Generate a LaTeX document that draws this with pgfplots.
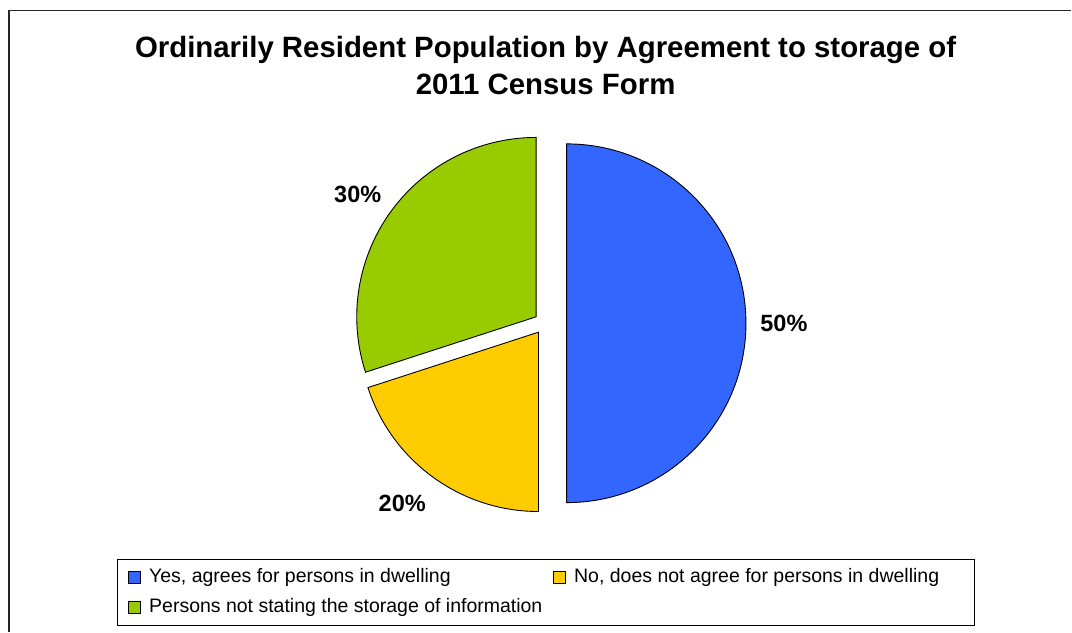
\documentclass[border=0pt]{standalone}
\usepackage{pgfplots}
\pgfplotsset{compat=1.18}
\usepackage{pgfplotstable}
\usepackage{fontspec}
\setmainfont{Liberation Sans}
\definecolor{cblue}{RGB}{51,102,255}
\definecolor{cyellow}{RGB}{255,204,0}
\definecolor{cgreen}{RGB}{153,204,0}

\pgfplotstableread{
value explode
50 21.6
20 11
30 11
}\piedata

\begin{document}
\begin{tikzpicture}
\pgfplotstablegetelem{0}{value}\of\piedata\edef\va{\pgfplotsretval}
\pgfplotstablegetelem{1}{value}\of\piedata\edef\vb{\pgfplotsretval}
\pgfplotstablegetelem{2}{value}\of\piedata\edef\vc{\pgfplotsretval}
\pgfplotstablegetelem{0}{explode}\of\piedata\edef\ea{\pgfplotsretval}
\pgfplotstablegetelem{1}{explode}\of\piedata\edef\eb{\pgfplotsretval}
\pgfplotstablegetelem{2}{explode}\of\piedata\edef\ec{\pgfplotsretval}
\pgfmathsetmacro\tot{\va+\vb+\vc}
\pgfmathsetmacro\aA{90}
\pgfmathsetmacro\aB{\aA-360*(\va/\tot)}
\pgfmathsetmacro\aC{\aB-360*(\vb/\tot)}
\pgfmathsetmacro\aD{\aC-360*(\vc/\tot)}
\pgfmathsetmacro\mA{(\aA+\aB)/2}
\pgfmathsetmacro\mB{(\aB+\aC)/2}
\pgfmathsetmacro\mC{(\aC+\aD)/2}
\def\cx{545.4}
\def\cy{308.5}
\begin{axis}[
  x=1pt, y=1pt, xmin=0, xmax=1072, ymin=0, ymax=632,
  scale only axis, hide axis, clip=false,
  legend columns=2,
  legend cell align=left,
  legend image code/.code={\draw[#1] (0pt,-6pt) rectangle (12pt,6pt); \path (20pt,0pt);},
  legend style={
    at={(axis cs:117,73)}, anchor=north west,
    draw=black, line width=1pt,
    inner xsep=11pt, inner ysep=9pt,
    font=\fontsize{19.5}{22}\selectfont,
    nodes={inner sep=0pt, text height=14pt, text depth=4pt},
    column sep=0pt, row sep=12pt,
    /tikz/column 2/.style={column sep=11pt},
  },
]
\path (axis cs:0,0) rectangle (axis cs:1072,632);
% frame
\draw[line width=1.6pt, black!85] (axis cs:9,0) -- (axis cs:9,621.3) -- (axis cs:1072,621.3);
% pie slices
\filldraw[fill=cblue, draw=black, line width=0.9pt]
  (axis cs:{\cx+\ea*cos(\mA)},{\cy+\ea*sin(\mA)}) -- ++(\aA:179.5pt)
  arc[start angle=\aA, end angle=\aB, radius=179.5pt] -- cycle;
\filldraw[fill=cyellow, draw=black, line width=0.9pt]
  (axis cs:{\cx+\eb*cos(\mB)},{\cy+\eb*sin(\mB)}) -- ++(\aB:179.5pt)
  arc[start angle=\aB, end angle=\aC, radius=179.5pt] -- cycle;
\filldraw[fill=cgreen, draw=black, line width=0.9pt]
  (axis cs:{\cx+\ec*cos(\mC)},{\cy+\ec*sin(\mC)}) -- ++(\aC:179.5pt)
  arc[start angle=\aC, end angle=\aD, radius=179.5pt] -- cycle;
% labels
\node[inner sep=0pt, font=\fontsize{23.5}{28}\selectfont\bfseries] at (axis cs:784.5,308.5) {\va\%};
\node[inner sep=0pt, font=\fontsize{23.5}{28}\selectfont\bfseries] at (axis cs:402.5,128.5) {\vb\%};
\node[inner sep=0pt, font=\fontsize{23.5}{28}\selectfont\bfseries] at (axis cs:358,437) {\vc\%};
% title
\node[anchor=base, inner sep=0pt, font=\fontsize{29.4}{37}\selectfont\bfseries] at (axis cs:546,574) {Ordinarily Resident Population by Agreement to storage of};
\node[anchor=base, inner sep=0pt, font=\fontsize{29.4}{37}\selectfont\bfseries] at (axis cs:546,537) {2011 Census Form};
% legend
\addlegendimage{fill=cblue, draw=black, line width=0.8pt}
\addlegendentry{Yes, agrees for persons in dwelling}
\addlegendimage{fill=cyellow, draw=black, line width=0.8pt}
\addlegendentry{\makebox[390pt][l]{No, does not agree for persons in dwelling}}
\addlegendimage{fill=cgreen, draw=black, line width=0.8pt}
\addlegendentry{Persons not stating the storage of information}
\end{axis}
\end{tikzpicture}
\end{document}
